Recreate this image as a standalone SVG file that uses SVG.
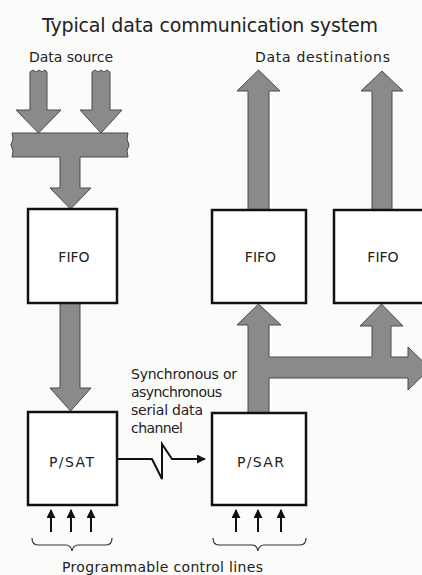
<svg xmlns="http://www.w3.org/2000/svg" width="422" height="575" viewBox="0 0 422 575">
<defs>
<style>
.t{font-family:"DejaVu Sans","Liberation Sans",sans-serif;fill:#222;}
.box{fill:#fff;stroke:#111;stroke-width:2.5;}
.bus{fill:#8a8a8a;stroke:#4a4a4a;stroke-width:1;stroke-linejoin:miter;}
.ctl{stroke:#111;stroke-width:2;fill:none;marker-end:url(#ah);}
.brace{fill:none;stroke:#333;stroke-width:1.2;}
.ser{fill:none;stroke:#111;stroke-width:2;stroke-linejoin:miter;}
</style>
<marker id="ah" viewBox="0 0 10 10" refX="9" refY="5" markerWidth="4.5" markerHeight="4.5" orient="auto" markerUnits="strokeWidth">
<path d="M0,0 L10,5 L0,10 Z" fill="#111"/>
</marker>
</defs>
<rect width="422" height="575" fill="#fbfbfa"/>
<text class="t" x="42" y="32" font-size="19" textLength="336" lengthAdjust="spacing">Typical data communication system</text>
<text class="t" x="29" y="62" font-size="14" textLength="84" lengthAdjust="spacing">Data source</text>
<text class="t" x="255" y="62" font-size="14" textLength="135" lengthAdjust="spacing">Data destinations</text>
<g id="connectors">
<path id="src1" class="bus" d="M30,72 L33,70 L36,72 L39,70 L42,72 L45,70 L47,72 L47,110 L61,110 L38.5,133 L16,110 L30,110 Z"/>
<path id="src2" class="bus" d="M92,72 L95,70 L98,72 L101,70 L104,72 L107,70 L110,72 L110,110 L122,110 L101,133 L80,110 L92,110 Z"/>
<path id="busbar" class="bus" d="M12,133 L128,133 L127,139 L129,145 L127,151 L128,157 L80,157 L80,188 L91,188 L70.5,209 L50,188 L60,188 L60,157 L12,157 L13,151 L11,145 L13,139 Z"/>
<path id="fifo-psat" class="bus" d="M60,303 L80,303 L80,388 L91,388 L70.5,411 L50,388 L60,388 Z"/>
<path id="dest1" class="bus" d="M248,210 L248,91 L237,91 L258.5,70 L280,91 L269,91 L269,210 Z"/>
<path id="dest2" class="bus" d="M372,210 L372,91 L361,91 L382,71 L403,91 L392,91 L392,210 Z"/>
<path id="psar-bus" class="bus" d="M248,413 L248,325 L237,325 L258.5,304 L281,325 L269,325 L269,357 L372,357 L372,326 L360,326 L381.5,304 L403,326 L391,326 L391,357 L408,357 L408,347 L430,368.5 L408,390 L408,378 L269,378 L269,413 Z"/>
<polyline id="serial" class="ser" points="117,459 152,459 162,479 162,444 172,459 205,459" marker-end="url(#ah)"/>
<line class="ctl" x1="51" y1="532" x2="51" y2="510"/>
<line class="ctl" x1="71" y1="532" x2="71" y2="510"/>
<line class="ctl" x1="91" y1="532" x2="91" y2="510"/>
<line class="ctl" x1="236" y1="532" x2="236" y2="510"/>
<line class="ctl" x1="258" y1="532" x2="258" y2="510"/>
<line class="ctl" x1="281" y1="532" x2="281" y2="510"/>
<path class="brace" d="M32,538 Q32,545 38,545 L66,545 Q71,545 72,551 Q73,545 78,545 L106,545 Q112,545 112,538"/>
<path class="brace" d="M213,538 Q213,545 219,545 L252,545 Q257,545 258,551 Q259,545 264,545 L300,545 Q306,545 306,538"/>
</g>
<g id="fifo1"><rect class="box" x="28" y="209" width="89" height="94"/><text class="t" x="74" y="262" font-size="14" text-anchor="middle">FIFO</text></g>
<g id="psat"><rect class="box" x="28" y="412" width="89" height="93"/><text class="t" x="71.5" y="467" font-size="14" text-anchor="middle" textLength="45" lengthAdjust="spacing">P/SAT</text></g>
<g id="fifo2"><rect class="box" x="212" y="210" width="94" height="93"/><text class="t" x="260.5" y="262" font-size="14" text-anchor="middle">FIFO</text></g>
<g id="fifo3"><rect class="box" x="334" y="210" width="100" height="93"/><text class="t" x="383" y="262" font-size="14" text-anchor="middle">FIFO</text></g>
<g id="psar"><rect class="box" x="212" y="413" width="94" height="92"/><text class="t" x="260.5" y="467" font-size="14" text-anchor="middle" textLength="47" lengthAdjust="spacing">P/SAR</text></g>
<g id="serial-label">
<text class="t" x="131" y="379" font-size="14" textLength="106" lengthAdjust="spacing">Synchronous or</text>
<text class="t" x="131" y="397" font-size="14" textLength="91" lengthAdjust="spacing">asynchronous</text>
<text class="t" x="131" y="415" font-size="14" textLength="72" lengthAdjust="spacing">serial data</text>
<text class="t" x="131" y="433" font-size="14" textLength="52" lengthAdjust="spacing">channel</text>
</g>
<text class="t" x="62" y="572" font-size="14" textLength="201" lengthAdjust="spacing">Programmable control lines</text>
</svg>
